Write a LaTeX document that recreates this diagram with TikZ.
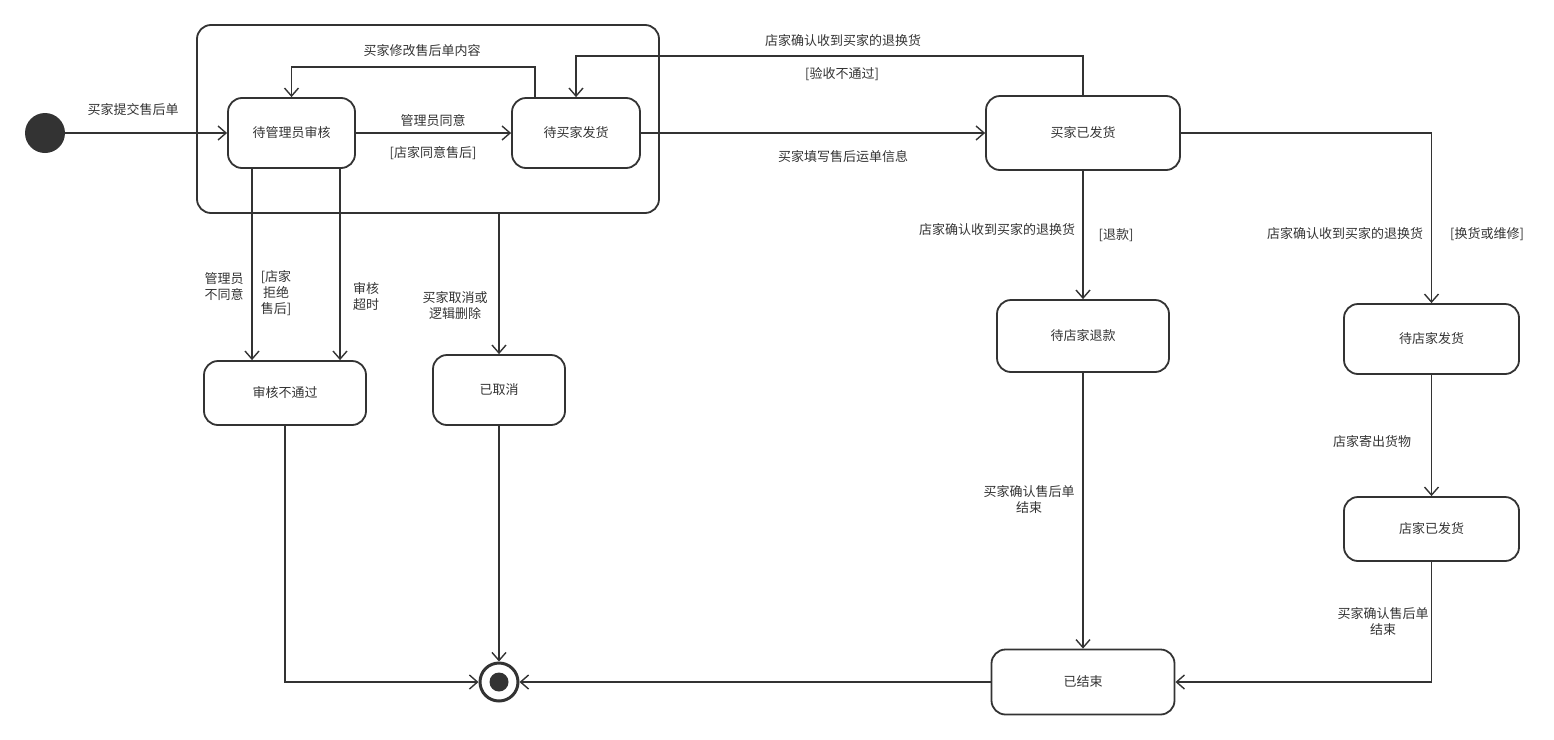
\documentclass[tikz,border=0pt]{standalone}
\usepackage{fontspec}
\setmainfont{Noto Sans CJK SC}
\usetikzlibrary{arrows.meta,calc}
\definecolor{ink}{HTML}{333333}
\begin{document}
\begin{tikzpicture}[x=1pt,y=-1pt,
  every node/.style={font=\fontsize{13}{16}\selectfont, text=ink},
  state/.style={draw=ink, line width=1.8pt, rounded corners=14pt, inner sep=0pt, align=center},
  lbl/.style={align=center, inner sep=0pt},
  arr/.style={draw=ink, line width=1.4pt, -{Straight Barb[length=8pt,width=14pt,line width=1.4pt]}}
]
\useasboundingbox (0,0) rectangle (1554,739);

% composite state
\node[state, minimum width=462pt, minimum height=188pt] (comp) at (428,119) {};

% states
\node[circle, fill=ink, minimum size=40pt, inner sep=0pt] (init) at (45,133) {};
\node[state, minimum width=127pt, minimum height=70pt] (wa) at (291.5,133) {待管理员审核};
\node[state, minimum width=128pt, minimum height=70pt] (wb) at (576,133) {待买家发货};
\node[state, minimum width=194pt, minimum height=74pt] (bs) at (1083,133) {买家已发货};
\node[state, minimum width=172pt, minimum height=72pt] (wr) at (1083,336) {待店家退款};
\node[state, minimum width=175pt, minimum height=70pt] (ws) at (1431.5,339) {待店家发货};
\node[state, minimum width=175pt, minimum height=64pt] (ss) at (1431.5,529) {店家已发货};
\node[state, minimum width=183pt, minimum height=65pt] (fin) at (1083,682) {已结束};
\node[state, minimum width=162pt, minimum height=64pt] (rej) at (285,393) {审核不通过};
\node[state, minimum width=132pt, minimum height=70pt] (can) at (499,390) {已取消};
\node[circle, draw=ink, line width=3pt, fill=white, minimum size=38pt, inner sep=0pt] (final) at (499,682) {};
\node[circle, fill=ink, minimum size=19pt, inner sep=0pt] (finaldot) at (final.center) {};

% connectors
\draw[arr] (init) -- (wa);
\draw[arr] (wa) -- (wb);
\draw[arr] ([xshift=-41pt]wb.north) |- ++(0,-30) -| (wa.north);
\draw[arr] (wb) -- (bs);
\draw[arr] (bs.north) |- ++(0,-39) -| (wb.north);
\draw[arr] (bs) -- (wr);
\draw[arr] (bs.east) -| (ws.north);
\draw[arr] (ws) -- (ss);
\draw[arr] (ss.south) |- (fin.east);
\draw[arr] (wr) -- (fin);
\draw[arr] (fin) -- (final);
\draw[arr] (rej.south) |- (final.west);
\draw[arr] (can) -- (final);
\draw[arr] ([xshift=-39.5pt]wa.south) -- ([xshift=-33pt]rej.north);
\draw[arr] ([xshift=48.5pt]wa.south) -- ([xshift=55pt]rej.north);
\draw[arr] ([xshift=71pt]comp.south) -- (can.north);

% labels
\node[lbl] (l1) at (133,110) {买家提交售后单};
\node[lbl] (l2) at (433,121) {管理员同意};
\node[lbl] (l3) at (433,153) {[店家同意售后]};
\node[lbl] (l4) at (422,51) {买家修改售后单内容};
\node[lbl] (l5) at (843,41) {店家确认收到买家的退换货};
\node[lbl] (l6) at (842,74) {[验收不通过]};
\node[lbl] (l7) at (843,157) {买家填写售后运单信息};
\node[lbl] (l8) at (997,230) {店家确认收到买家的退换货};
\node[lbl] (l9) at (1116,235) {[退款]};
\node[lbl] (l10) at (1345,234) {店家确认收到买家的退换货};
\node[lbl] (l11) at (1487,234) {[换货或维修]};
\node[lbl] (l12) at (1372,442) {店家寄出货物};
\node[lbl] (l13) at (1383,622) {买家确认售后单\\结束};
\node[lbl] (l14) at (1029,500) {买家确认售后单\\结束};
\node[lbl] (l15) at (224,287) {管理员\\不同意};
\node[lbl] (l16) at (276,293) {[店家\\拒绝\\售后]};
\node[lbl] (l17) at (366,297) {审核\\超时};
\node[lbl] (l18) at (455,306) {买家取消或\\逻辑删除};
\end{tikzpicture}
\end{document}
